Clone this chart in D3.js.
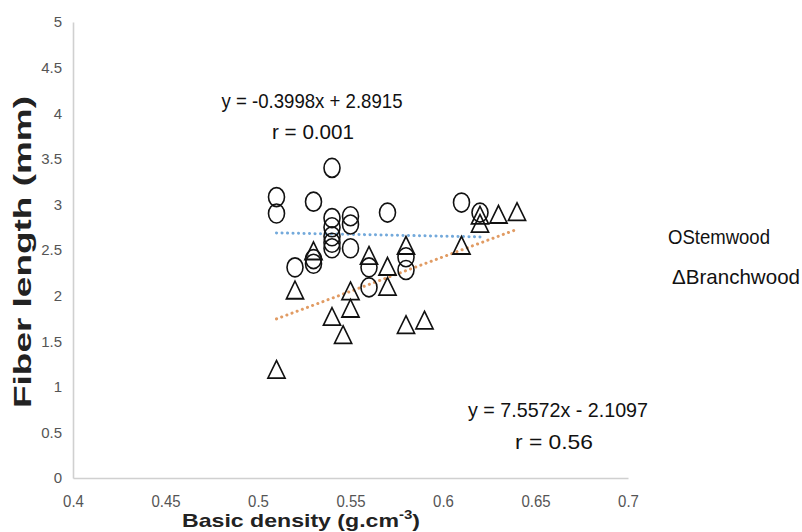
<!DOCTYPE html>
<html><head><meta charset="utf-8">
<script src="https://cdn.jsdelivr.net/npm/d3@7"></script>
<style>body{margin:0;background:#fff}svg{display:block}</style>
</head><body>
<script>
// ---- data ----
const xTicks = [0.4, 0.45, 0.5, 0.55, 0.6, 0.65, 0.7];
const xTickLabels = ["0.4", "0.45", "0.5", "0.55", "0.6", "0.65", "0.7"];
const yTicks = [0, 0.5, 1, 1.5, 2, 2.5, 3, 3.5, 4, 4.5, 5];
const yTickLabels = ["0", "0.5", "1", "1.5", "2", "2.5", "3", "3.5", "4", "4.5", "5"];

const stemDensity = [0.51, 0.51, 0.53, 0.54, 0.54, 0.54, 0.54, 0.54, 0.54, 0.55, 0.55, 0.55, 0.52, 0.53, 0.53, 0.56, 0.56, 0.57, 0.58, 0.58, 0.61, 0.62];
const stemFiber   = [3.08, 2.90, 3.03, 3.40, 2.85, 2.75, 2.65, 2.58, 2.52, 2.87, 2.78, 2.52, 2.31, 2.40, 2.35, 2.31, 2.09, 2.91, 2.42, 2.28, 3.02, 2.91];

const branchDensity = [0.51, 0.52, 0.53, 0.54, 0.55, 0.55, 0.546, 0.56, 0.57, 0.57, 0.58, 0.58, 0.59, 0.61, 0.62, 0.62, 0.63, 0.64];
const branchFiber   = [1.16, 2.03, 2.46, 1.74, 2.02, 1.83, 1.54, 2.41, 2.29, 2.07, 2.52, 1.65, 1.70, 2.52, 2.85, 2.76, 2.86, 2.89];

const seriesNames = ["Stemwood", "Branchwood"];
const trendSlope = [-0.3998, 7.5572];
const trendIntercept = [2.8915, -2.1097];
const trendRange = [[0.51, 0.62], [0.51, 0.64]];
const equationLabels = ["y = -0.3998x + 2.8915", "y = 7.5572x - 2.1097"];
const rLabels = ["r = 0.001", "r = 0.56"];
const xTitle = "Basic density (g.cm";
const yTitle = "Fiber length (mm)";

// ---- drawing ----
const W = 802, H = 532;
const svg = d3.select("body").append("svg").attr("width", W).attr("height", H);

const x = d3.scaleLinear().domain([0.4, 0.7]).range([73, 628]);
const y = d3.scaleLinear().domain([0, 5]).range([478, 22]);

const axisColor = "#d0d0d0";
const tickColor = "#555555";
const tickFont = "'Liberation Sans', Arial, sans-serif";

// x axis
const xAxis = svg.append("g").attr("transform", `translate(0,${y(0)})`)
  .call(d3.axisBottom(x).tickValues(xTicks).tickSize(0).tickPadding(0)
        .tickFormat((d, i) => xTickLabels[i]));
xAxis.select(".domain").attr("stroke", axisColor).attr("stroke-width", 1.6);
xAxis.selectAll("text").attr("fill", tickColor).attr("font-family", tickFont)
  .attr("font-size", 15).attr("dy", null).attr("y", 0)
  .attr("transform", "translate(0,29) scale(1,1.12)");

// y axis
const yAxis = svg.append("g").attr("transform", `translate(${x(0.4)},0)`)
  .call(d3.axisLeft(y).tickValues(yTicks).tickSize(0).tickPadding(11)
        .tickFormat((d, i) => yTickLabels[i]));
yAxis.select(".domain").attr("stroke", axisColor).attr("stroke-width", 1.6);
yAxis.selectAll("text").attr("fill", tickColor).attr("font-family", tickFont)
  .attr("font-size", 15);

// axis titles
const xt = svg.append("text")
  .attr("x", 301).attr("y", 527).attr("text-anchor", "middle")
  .attr("font-family", tickFont).attr("font-weight", "bold")
  .attr("font-size", 18.5).attr("fill", "#222")
  .attr("textLength", 238).attr("lengthAdjust", "spacingAndGlyphs");
xt.append("tspan").text(xTitle);
xt.append("tspan").attr("font-size", 12).attr("dy", -8).text("-3");
xt.append("tspan").attr("dy", 8).text(")");

svg.append("text")
  .attr("transform", `translate(31,252) rotate(-90)`)
  .attr("text-anchor", "middle")
  .attr("font-family", tickFont).attr("font-weight", "bold")
  .attr("font-size", 23).attr("fill", "#222")
  .attr("textLength", 312).attr("lengthAdjust", "spacingAndGlyphs")
  .text(yTitle);

// trend lines
const trendColors = ["#5b9bd5", "#dc8a48"];
[0, 1].forEach(i => {
  const [a, b] = trendRange[i];
  svg.append("line")
    .attr("x1", x(a)).attr("y1", y(trendSlope[i] * a + trendIntercept[i]))
    .attr("x2", x(b)).attr("y2", y(trendSlope[i] * b + trendIntercept[i]))
    .attr("stroke", trendColors[i]).attr("stroke-width", 3)
    .attr("stroke-linecap", "round").attr("stroke-dasharray", "0.1 5.4")
    .attr("opacity", 0.85);
});

// markers
const mStroke = "#111";
svg.append("g").selectAll("ellipse").data(stemDensity.map((d, i) => [d, stemFiber[i]]))
  .join("ellipse")
  .attr("cx", d => x(d[0])).attr("cy", d => y(d[1]))
  .attr("rx", 8).attr("ry", 9.5)
  .attr("fill", "none").attr("stroke", mStroke).attr("stroke-width", 1.6);

const tri = d3.symbol().type(d3.symbolTriangle).size(120);
svg.append("g").selectAll("path").data(branchDensity.map((d, i) => [d, branchFiber[i]]))
  .join("path")
  .attr("d", tri)
  .attr("transform", d => `translate(${x(d[0])},${y(d[1])}) scale(1.03,1.22)`)
  .attr("fill", "none").attr("stroke", mStroke).attr("stroke-width", 1.5);

// equations
const eqFont = "'Liberation Sans', Arial, sans-serif";
function label(tx, ty, txt, len) {
  svg.append("text").attr("x", tx).attr("y", ty).text(txt)
    .attr("font-family", eqFont).attr("font-size", 21)
    .attr("fill", "#111").attr("text-anchor", "middle")
    .attr("textLength", len).attr("lengthAdjust", "spacingAndGlyphs");
}
label(312, 108, equationLabels[0], 181);
label(313, 139, rLabels[0], 82);
label(558, 417, equationLabels[1], 180);
label(554, 449, rLabels[1], 78);

// legend
const legendSymbols = ["O", "\u0394"];
const legendY = [244, 284];
const legendLen = [102, 128];
const legendX = [668, 672];
[0, 1].forEach(i => {
  svg.append("text").attr("x", legendX[i]).attr("y", legendY[i])
    .attr("font-family", eqFont).attr("font-size", 21).attr("fill", "#111")
    .attr("textLength", legendLen[i]).attr("lengthAdjust", "spacingAndGlyphs")
    .text(legendSymbols[i] + seriesNames[i]);
});
</script>
</body></html>
